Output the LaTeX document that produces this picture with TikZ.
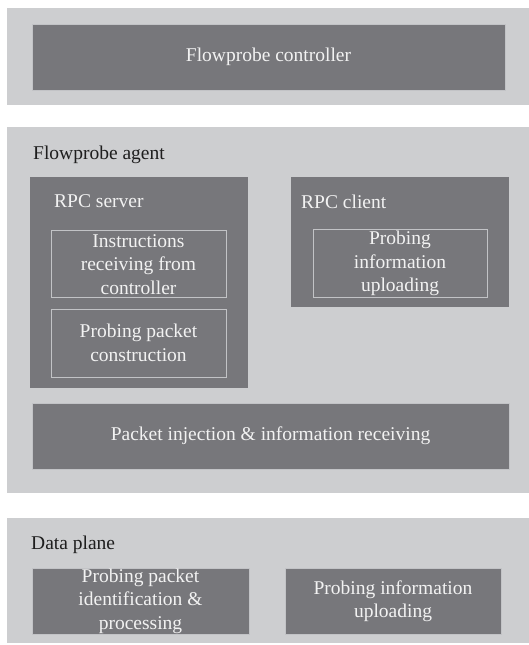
\documentclass[tikz,border=0pt]{standalone}
\usepackage{fontspec}
\setmainfont{LiberationSerif}[Extension=.ttf,UprightFont=*-Regular,BoldFont=*-Bold]
\definecolor{layergray}{HTML}{CDCED0}
\definecolor{modgray}{HTML}{77777B}
\definecolor{edgegray}{HTML}{C2C3C6}
\definecolor{lighttext}{HTML}{F2F2F2}
\definecolor{darktext}{HTML}{1E1E1E}
\begin{document}
\begin{tikzpicture}[x=1pt,y=-1pt,
  layer/.style={fill=layergray,draw=none},
  module/.style={fill=modgray,draw=none},
  submod/.style={fill=modgray,draw=edgegray,line width=0.8pt},
  lbl/.style={text=lighttext,align=center,inner sep=0pt},
  title/.style={text=darktext,anchor=west,inner sep=0pt},
  modtitle/.style={text=lighttext,anchor=west,inner sep=0pt},
  every node/.style={font=\fontsize{19.5}{23.5}\selectfont}]
\useasboundingbox (0,0) rectangle (529,645);

% layers
\fill[layer] (7,8) rectangle (529,105);
\fill[layer] (7,127) rectangle (529,493);
\fill[layer] (7,518) rectangle (529,643);

% controller
\draw[submod] (32,24) rectangle (505,90);
\node[lbl] (ctrl) at (268.5,57) {Flowprobe controller};

% agent
\node[title] (agent) at (33,155) {Flowprobe agent};

\fill[module] (30,177) rectangle (248,388);
\node[modtitle] (server) at (54,201) {RPC server};
\draw[submod] (51,230) rectangle (226,297);
\node[lbl] (instr) at (138.5,264.5) {Instructions\\receiving from\\controller};
\draw[submod] (51,309) rectangle (226,377);
\node[lbl] (constr) at (138.5,343) {Probing packet\\construction};

\fill[module] (291,177) rectangle (509,307);
\node[modtitle] (client) at (301,202) {RPC client};
\draw[submod] (313,229) rectangle (487,297);
\node[lbl] (upl) at (400,263.5) {Probing\\information\\uploading};

\draw[submod] (32,403) rectangle (509,469);
\node[lbl] (inject) at (270.5,436) {Packet injection \& information receiving};

% data plane
\node[title] (dp) at (31,545) {Data plane};
\draw[submod] (32,568) rectangle (249,634);
\node[lbl] (ident) at (140.5,601) {Probing packet\\identification \&\\processing};
\draw[submod] (285,568) rectangle (501,634);
\node[lbl] (dpup) at (393,601) {Probing information\\uploading};
\end{tikzpicture}
\end{document}
